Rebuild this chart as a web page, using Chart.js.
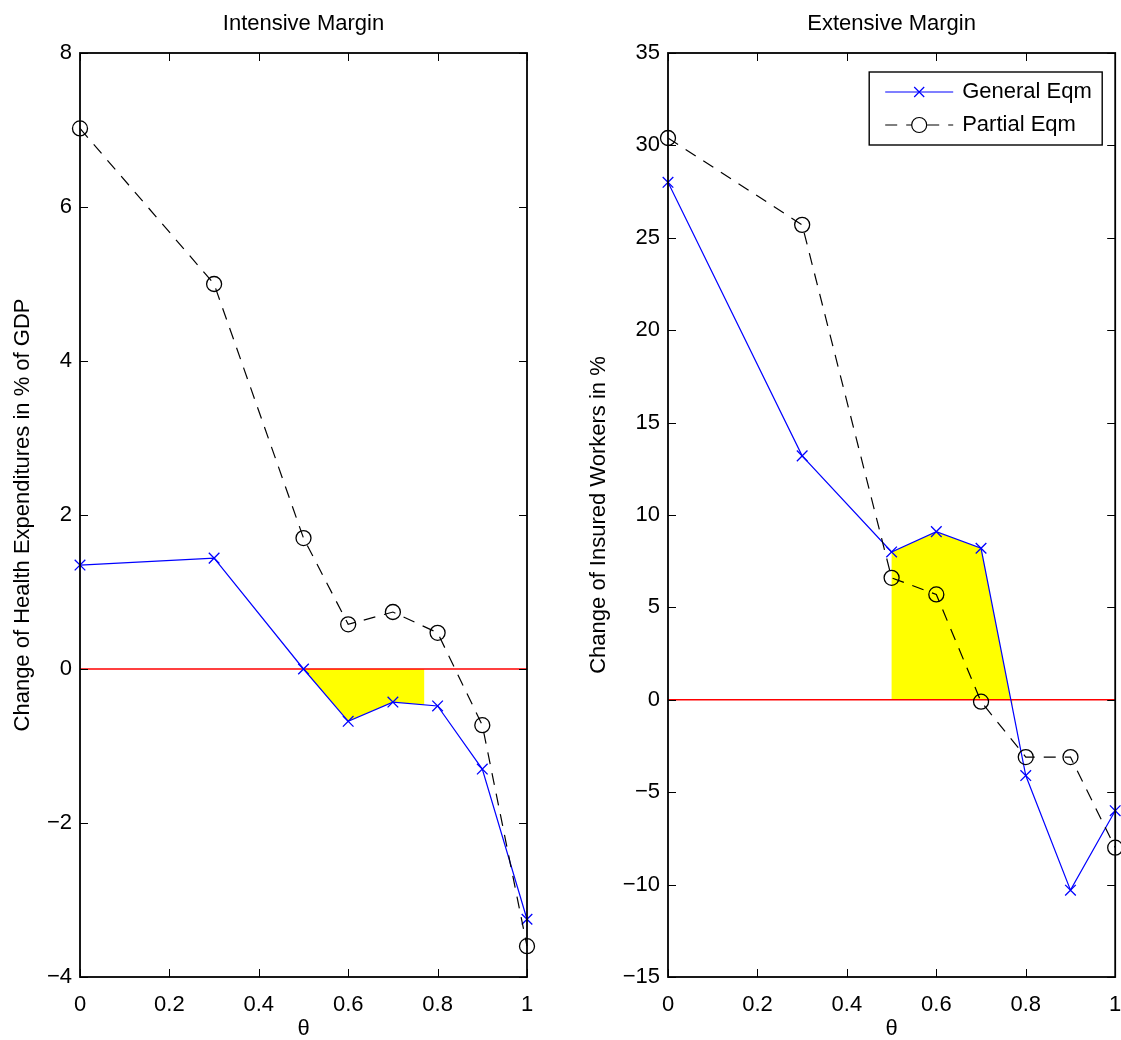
<!DOCTYPE html>
<html>
<head>
<meta charset="utf-8">
<script src="https://cdn.jsdelivr.net/npm/chart.js@4/dist/chart.umd.min.js"></script>
<style>
  html, body { margin: 0; padding: 0; background: #fff; overflow: hidden; }
  canvas { position: absolute; top: 0; }
  #intensive { left: 0; }
  #extensive { left: 560px; }
</style>
</head>
<body>
<canvas id="intensive" width="560" height="1040"></canvas>
<canvas id="extensive" width="564" height="1040"></canvas>
<script>
const theta = [0, 0.3, 0.5, 0.6, 0.7, 0.8, 0.9, 1]

const intGeneral = [1.35, 1.44, 0.0, -0.68, -0.43, -0.48, -1.3, -3.25]
const intPartial = [7.02, 5.0, 1.7, 0.58, 0.74, 0.47, -0.73, -3.6]

const extGeneral = [28.0, 13.2, 8.0, 9.1, 8.2, -4.1, -10.3, -6.0]
const extPartial = [30.4, 25.7, 6.6, 5.7, -0.1, -3.1, -3.1, -8.0]

const shadeRange = [0.5, 0.77]
const seriesNames = ['General Eqm', 'Partial Eqm']

const FONT = { family: "'Liberation Sans', Arial, Helvetica, sans-serif", size: 22 }

const toPoints = (xs, ys) => xs.map((x, i) => ({ x, y: ys[i] }))
const fmtNum = v => (v < 0 ? '\u2212' + Math.abs(v) : String(v))

// yellow area between the general-eqm line and zero, inside shadeRange
const shadePlugin = {
  id: 'shade',
  beforeDatasetsDraw(chart, args, opts) {
    if (!opts.range) return
    const { ctx, chartArea: a, scales: { x, y } } = chart
    const pts = chart.getDatasetMeta(0).data
    const y0 = y.getPixelForValue(0)
    const x1 = x.getPixelForValue(opts.range[0])
    const x2 = x.getPixelForValue(opts.range[1])
    ctx.save()
    ctx.beginPath()
    ctx.rect(x1, a.top, x2 - x1, a.height)
    ctx.clip()
    ctx.beginPath()
    ctx.moveTo(pts[0].x, y0)
    pts.forEach(p => ctx.lineTo(p.x, p.y))
    ctx.lineTo(pts[pts.length - 1].x, y0)
    ctx.closePath()
    ctx.fillStyle = '#ffff00'
    ctx.fill()
    ctx.restore()
  },
}

// matlab style frame with inward ticks on all four sides
const boxPlugin = {
  id: 'matlabBox',
  afterDatasetsDraw(chart) {
    const { ctx, chartArea: a, scales: { x, y } } = chart
    const len = 8
    ctx.save()
    ctx.strokeStyle = '#000'
    ctx.lineWidth = 1
    ctx.beginPath()
    x.ticks.forEach(t => {
      const px = Math.round(x.getPixelForValue(t.value)) + 0.5
      ctx.moveTo(px, a.bottom); ctx.lineTo(px, a.bottom - len)
      ctx.moveTo(px, a.top); ctx.lineTo(px, a.top + len)
    })
    y.ticks.forEach(t => {
      const py = Math.round(y.getPixelForValue(t.value)) + 0.5
      ctx.moveTo(a.left, py); ctx.lineTo(a.left + len, py)
      ctx.moveTo(a.right, py); ctx.lineTo(a.right - len, py)
    })
    ctx.stroke()
    ctx.lineWidth = 1.8
    ctx.strokeRect(a.left, a.top, a.width, a.height)
    ctx.restore()
  },
}

// boxed legend in the upper right corner, line + marker + label
const legendPlugin = {
  id: 'boxLegend',
  afterDraw(chart, args, opts) {
    if (!opts.show) return
    const { ctx, chartArea: a } = chart
    const w = 233, h = 73
    const left = a.right - 13 - w, top = a.top + 19
    ctx.save()
    ctx.fillStyle = '#fff'
    ctx.fillRect(left, top, w, h)
    ctx.strokeStyle = '#000'
    ctx.lineWidth = 1.4
    ctx.strokeRect(left, top, w, h)
    ;[0, 1].forEach(i => {
      const ds = chart.data.datasets[i]
      const yy = top + 20 + i * 33
      ctx.strokeStyle = ds.borderColor
      ctx.lineWidth = ds.borderWidth
      ctx.setLineDash(ds.borderDash || [])
      ctx.beginPath()
      ctx.moveTo(left + 16, yy)
      ctx.lineTo(left + 84, yy)
      ctx.stroke()
      ctx.setLineDash([])
      ctx.beginPath()
      const mx = left + 50
      if (ds.pointStyle === 'circle') {
        ctx.fillStyle = '#fff'
        ctx.arc(mx, yy, 7.5, 0, Math.PI * 2)
        ctx.fill()
      } else {
        const r = 5
        ctx.moveTo(mx - r, yy - r); ctx.lineTo(mx + r, yy + r)
        ctx.moveTo(mx - r, yy + r); ctx.lineTo(mx + r, yy - r)
      }
      ctx.stroke()
      ctx.fillStyle = '#000'
      ctx.font = `${FONT.size}px ${FONT.family}`
      ctx.textBaseline = 'middle'
      ctx.fillText(ds.label, left + 93, yy)
    })
    ctx.restore()
  },
}

function makeChart(id, cfg) {
  return new Chart(document.getElementById(id), {
    type: 'line',
    data: {
      datasets: [
        {
          label: seriesNames[0],
          data: toPoints(theta, cfg.general),
          borderColor: '#0000ff',
          borderWidth: 1.2,
          pointStyle: 'crossRot',
          pointRadius: 7.5,
          pointBorderWidth: 1.3,
          pointBorderColor: '#0000ff',
          tension: 0,
          clip: false,
          order: 1,
        },
        {
          label: seriesNames[1],
          data: toPoints(theta, cfg.partial),
          borderColor: '#000',
          borderWidth: 1.2,
          borderDash: [12, 9],
          pointStyle: 'circle',
          pointRadius: 7.5,
          pointBorderWidth: 1.3,
          pointBorderColor: '#000',
          pointBackgroundColor: 'rgba(0,0,0,0)',
          tension: 0,
          clip: false,
          order: 0,
        },
        {
          label: 'zero',
          data: [{ x: 0, y: 0 }, { x: 1, y: 0 }],
          borderColor: '#ff0000',
          borderWidth: 1.5,
          pointRadius: 0,
          order: 2,
        },
      ],
    },
    options: {
      responsive: false,
      animation: false,
      events: [],
      layout: { padding: { left: 0, right: cfg.padRight, top: 0, bottom: 0 } },
      plugins: {
        legend: { display: false },
        tooltip: { enabled: false },
        title: {
          display: true,
          text: cfg.title,
          fullSize: false,
          color: '#000',
          font: { ...FONT, weight: 'normal' },
          padding: { top: 11, bottom: 15.6 },
        },
        shade: { range: shadeRange },
        boxLegend: { show: cfg.legend },
      },
      scales: {
        x: {
          type: 'linear',
          min: 0,
          max: 1,
          grid: { display: false, drawTicks: false },
          border: { display: false },
          ticks: {
            stepSize: 0.2,
            padding: 15,
            color: '#000',
            font: FONT,
            maxRotation: 0,
            callback: v => String(Math.round(v * 10) / 10),
          },
          title: { display: true, text: '\u03b8', color: '#000', font: FONT, padding: { top: 0, bottom: -2 } },
          afterFit: s => { s.height = 63; s.paddingLeft = 0; s.paddingRight = 0 },
        },
        y: {
          min: cfg.yMin,
          max: cfg.yMax,
          grid: { display: false, drawTicks: false },
          border: { display: false },
          ticks: { stepSize: cfg.yStep, padding: 8, color: '#000', font: FONT, callback: fmtNum },
          title: { display: true, text: cfg.yTitle, color: '#000', font: FONT, padding: { top: cfg.yTitlePad, bottom: 0 } },
          afterFit: s => { s.width = cfg.yWidth; s.paddingTop = 0; s.paddingBottom = 0 },
        },
      },
    },
    plugins: [shadePlugin, boxPlugin, legendPlugin],
  })
}

makeChart('intensive', {
  title: 'Intensive Margin',
  general: intGeneral,
  partial: intPartial,
  yMin: -4, yMax: 8, yStep: 2,
  yTitle: 'Change of Health Expenditures in % of GDP',
  yWidth: 80, yTitlePad: 10, padRight: 33,
  legend: false,
})

makeChart('extensive', {
  title: 'Extensive Margin',
  general: extGeneral,
  partial: extPartial,
  yMin: -15, yMax: 35, yStep: 5,
  yTitle: 'Change of Insured Workers in %',
  yWidth: 108, yTitlePad: 26, padRight: 0,
  legend: true,
})
</script>
</body>
</html>
